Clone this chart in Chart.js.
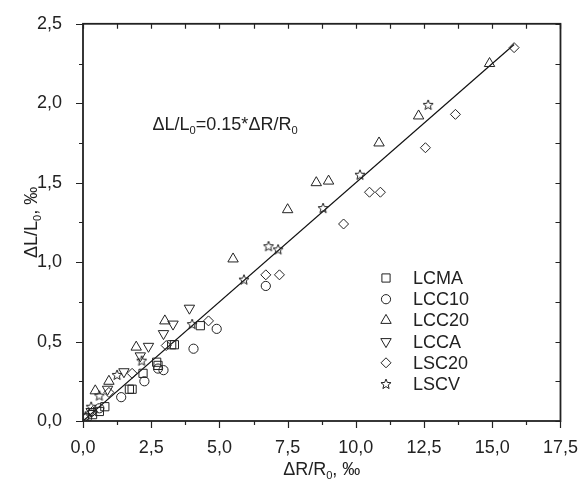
<!DOCTYPE html>
<html>
<head>
<meta charset="utf-8">
<script src="https://cdn.jsdelivr.net/npm/chart.js@4.4.1/dist/chart.umd.min.js"></script>
<style>
  html, body { margin: 0; padding: 0; background: #fff; }
</style>
</head>
<body>
<canvas id="myChart" width="586" height="484"></canvas>
<script>
// values: x = dR/R0 (permille), y = dL/L0 (permille)
var lcmaX = [0.35, 0.6, 0.8, 1.7, 1.8, 2.2, 2.7, 2.75, 3.25, 3.35, 4.3];
var lcmaY = [0.04, 0.06, 0.09, 0.2, 0.2, 0.3, 0.37, 0.35, 0.48, 0.48, 0.6];

var lcc10X = [0.15, 0.6, 1.4, 2.25, 2.75, 2.95, 4.05, 4.9, 6.7];
var lcc10Y = [0.02, 0.08, 0.15, 0.25, 0.33, 0.32, 0.455, 0.58, 0.85];

var lcc20X = [0.45, 0.95, 1.95, 3.0, 5.5, 7.5, 8.55, 9.0, 10.85, 12.3, 14.9];
var lcc20Y = [0.19, 0.25, 0.465, 0.63, 1.02, 1.33, 1.5, 1.51, 1.75, 1.92, 2.25];

var lccaX = [0.3, 0.9, 1.5, 2.1, 2.4, 2.95, 3.3, 3.9];
var lccaY = [0.06, 0.2, 0.31, 0.41, 0.47, 0.55, 0.61, 0.71];

var lsc20X = [0.05, 0.35, 0.95, 1.8, 3.05, 4.6, 6.7, 7.2, 9.55, 10.5, 10.9, 12.55, 13.65, 15.8];
var lsc20Y = [0.02, 0.06, 0.18, 0.3, 0.475, 0.63, 0.92, 0.92, 1.24, 1.44, 1.44, 1.72, 1.93, 2.35];

var lscvX = [0.1, 0.3, 0.6, 1.25, 2.15, 4.0, 5.9, 6.8, 7.15, 8.8, 10.15, 12.65];
var lscvY = [0.03, 0.09, 0.16, 0.29, 0.38, 0.61, 0.89, 1.1, 1.08, 1.34, 1.55, 1.99];

// fitted line dL/L0 = 0.15 * dR/R0
var fitX = [0, 15.8];
var fitY = [0, 2.37];

var xTitle = [["\u0394R/R", 0], ["0", 1], [", \u2030", 0]];
var yTitle = [["\u0394L/L", 0], ["0", 1], [", \u2030", 0]];
var formula = [["\u0394L/L", 0], ["0", 1], ["=0.15*\u0394R/R", 0], ["0", 1]];
var formulaAt = [2.55, 1.83];

var FONT = "'Liberation Sans', Arial, sans-serif";
var INK = "#222";

function pts(xs, ys) {
  return xs.map(function (x, i) { return { x: x, y: ys[i] }; });
}

// open five-pointed star used for LSCV
function makeStar() {
  var c = document.createElement("canvas");
  c.width = 14; c.height = 14;
  var g = c.getContext("2d");
  g.strokeStyle = INK;
  g.lineWidth = 1;
  g.beginPath();
  for (var i = 0; i < 10; i++) {
    var r = i % 2 ? 2.3 : 5.3;
    var a = -Math.PI / 2 + i * Math.PI / 5;
    var px = 7 + r * Math.cos(a), py = 7.3 + r * Math.sin(a);
    if (i === 0) g.moveTo(px, py); else g.lineTo(px, py);
  }
  g.closePath();
  g.stroke();
  return c;
}
var starImg = makeStar();

function fmt(v, step) {
  var k = v / step;
  if (Math.abs(k - Math.round(k)) > 1e-6) return "";
  return v.toFixed(1).replace(".", ",");
}

// text with lowered small "0" subscripts
function drawSub(ctx, parts, x, y, size, align) {
  var widths = parts.map(function (p) {
    ctx.font = (p[1] ? size * 0.62 : size) + "px " + FONT;
    return ctx.measureText(p[0]).width;
  });
  var total = widths.reduce(function (a, b) { return a + b; }, 0);
  var cx = align === "center" ? x - total / 2 : x;
  ctx.textAlign = "left";
  ctx.textBaseline = "alphabetic";
  parts.forEach(function (p, i) {
    ctx.font = (p[1] ? size * 0.62 : size) + "px " + FONT;
    ctx.fillText(p[0], cx, y + (p[1] ? size * 0.22 : 0));
    cx += widths[i];
  });
}

function mkSet(label, xs, ys, style, radius, rot) {
  return {
    label: label,
    data: pts(xs, ys),
    showLine: false,
    pointStyle: style,
    pointRadius: radius,
    pointHoverRadius: radius,
    pointRotation: rot || 0,
    pointBorderWidth: 1,
    borderColor: INK,
    backgroundColor: "rgba(0,0,0,0)",
    pointBackgroundColor: "rgba(0,0,0,0)"
  };
}

var frameTicks = {
  id: "frameTicks",
  afterDraw: function (chart) {
    var ctx = chart.ctx, a = chart.chartArea;
    var xs = chart.scales.x, ys = chart.scales.y;
    ctx.save();
    ctx.strokeStyle = INK;
    ctx.lineWidth = 1.8;
    ctx.strokeRect(a.left, a.top, a.right - a.left, a.bottom - a.top);
    ctx.lineWidth = 1.2;
    ctx.beginPath();
    xs.ticks.forEach(function (t) {
      var px = Math.round(xs.getPixelForValue(t.value)) + 0.5;
      var len = t.label ? 7 : 4;
      ctx.moveTo(px, a.bottom); ctx.lineTo(px, a.bottom + len);
      ctx.moveTo(px, a.top); ctx.lineTo(px, a.top + 5);
    });
    ys.ticks.forEach(function (t) {
      var py = Math.round(ys.getPixelForValue(t.value)) + 0.5;
      var len = t.label ? 7 : 4;
      ctx.moveTo(a.left, py); ctx.lineTo(a.left - len, py);
      ctx.moveTo(a.right, py); ctx.lineTo(a.right - 5, py);
    });
    ctx.stroke();

    ctx.fillStyle = INK;
    // axis titles
    drawSub(ctx, xTitle, (a.left + a.right) / 2, 475, 18, "center");
    ctx.save();
    ctx.translate(37, (a.top + a.bottom) / 2);
    ctx.rotate(-Math.PI / 2);
    drawSub(ctx, yTitle, 0, 0, 18, "center");
    ctx.restore();

    // formula annotation
    drawSub(ctx, formula, xs.getPixelForValue(formulaAt[0]), ys.getPixelForValue(formulaAt[1]), 18, "left");

    // legend inside the plot
    var lx = 386, ly = 278, gap = 21.2;
    chart.data.datasets.forEach(function (ds, i) {
      if (!ds.inLegend) return;
      var k = ds.inLegend - 1;
      var y = ly + k * gap;
      ctx.strokeStyle = INK;
      ctx.fillStyle = "rgba(0,0,0,0)";
      ctx.lineWidth = 1;
      Chart.helpers.drawPoint(ctx, {
        pointStyle: ds.pointStyle, radius: ds.pointRadius,
        rotation: ds.pointRotation, borderWidth: 1
      }, lx, y);
      ctx.fillStyle = INK;
      ctx.font = "18px " + FONT;
      ctx.textAlign = "left";
      ctx.textBaseline = "middle";
      ctx.fillText(ds.label, lx + 27, y + 1);
    });
    ctx.restore();
  }
};

var sets = [
  mkSet("LCMA", lcmaX, lcmaY, "rect", 5.8),
  mkSet("LCC10", lcc10X, lcc10Y, "circle", 4.6),
  mkSet("LCC20", lcc20X, lcc20Y, "triangle", 6),
  mkSet("LCCA", lccaX, lccaY, "triangle", 6, 180),
  mkSet("LSC20", lsc20X, lsc20Y, "rectRot", 5),
  mkSet("LSCV", lscvX, lscvY, starImg, 5)
];
sets.forEach(function (s, i) { s.inLegend = i + 1; });
sets.push({
  label: "fit",
  data: pts(fitX, fitY),
  showLine: true,
  borderColor: "#111",
  borderWidth: 1.2,
  pointRadius: 0,
  fill: false
});

var ctx = document.getElementById("myChart").getContext("2d");
var chart = new Chart(ctx, {
  type: "scatter",
  data: { datasets: sets },
  options: {
    responsive: false,
    animation: false,
    devicePixelRatio: 1,
    layout: { padding: { top: 20, right: 23, left: 0, bottom: 0 } },
    plugins: {
      legend: { display: false },
      tooltip: { enabled: false }
    },
    scales: {
      x: {
        type: "linear",
        min: 0,
        max: 17.5,
        afterFit: function (s) { s.height = 63; },
        grid: { display: false },
        border: { display: false },
        ticks: {
          stepSize: 1.25,
          autoSkip: false,
          maxRotation: 0,
          padding: 8,
          color: INK,
          font: { size: 18, family: FONT },
          callback: function (v) { return fmt(v, 2.5); }
        }
      },
      y: {
        type: "linear",
        min: 0,
        max: 2.5,
        afterFit: function (s) { s.width = 83; },
        grid: { display: false },
        border: { display: false },
        ticks: {
          stepSize: 0.25,
          autoSkip: false,
          padding: 13,
          color: INK,
          font: { size: 18, family: FONT },
          callback: function (v) { return fmt(v, 0.5); }
        }
      }
    }
  },
  plugins: [frameTicks]
});
</script>
</body>
</html>
